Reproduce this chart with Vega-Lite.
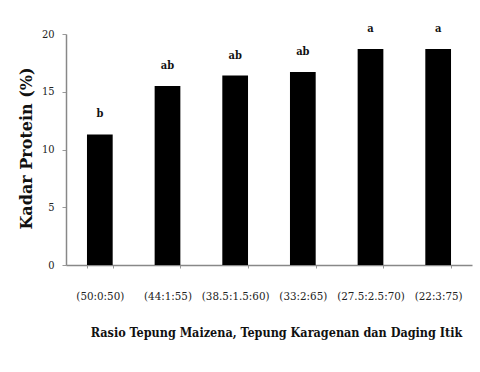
{
  "$schema": "https://vega.github.io/schema/vega-lite/v6.json",
  "width": 406,
  "height": 231,
  "autosize": {"type": "none"},
  "padding": {"left": 66, "top": 34, "right": 8, "bottom": 107},
  "background": "white",
  "config": {
    "view": {"stroke": null},
    "font": "DejaVu Serif"
  },
  "data": {
    "values": [
      {"rasio": "(50:0:50)", "protein": 11.3, "notasi": "b"},
      {"rasio": "(44:1:55)", "protein": 15.5, "notasi": "ab"},
      {"rasio": "(38.5:1.5:60)", "protein": 16.4, "notasi": "ab"},
      {"rasio": "(33:2:65)", "protein": 16.7, "notasi": "ab"},
      {"rasio": "(27.5:2.5:70)", "protein": 18.7, "notasi": "a"},
      {"rasio": "(22:3:75)", "protein": 18.7, "notasi": "a"}
    ]
  },
  "encoding": {
    "x": {
      "field": "rasio",
      "type": "nominal",
      "sort": null,
      "scale": {"paddingInner": 0.62, "paddingOuter": 0.31},
      "axis": {
        "title": "Rasio Tepung Maizena, Tepung Karagenan dan Daging Itik",
        "titleFont": "DejaVu Serif Condensed",
        "titleFontSize": 12.5,
        "titleFontWeight": "bold",
        "titleColor": "#111",
        "titlePadding": 25,
        "titleX": 210,
        "labelAngle": 0,
        "labelFont": "DejaVu Serif Condensed",
        "labelFontSize": 11.5,
        "labelColor": "#222",
        "labelPadding": 22,
        "tickBand": "extent",
        "tickSize": 3,
        "tickColor": "#999",
        "domainColor": "#888",
        "domainWidth": 1.5
      }
    },
    "y": {
      "field": "protein",
      "type": "quantitative",
      "scale": {"domain": [0, 20]},
      "axis": {
        "title": "Kadar Protein (%)",
        "titleFont": "DejaVu Serif",
        "titleFontSize": 16,
        "titleFontWeight": "bold",
        "titleColor": "#111",
        "titlePadding": 7,
        "titleY": 114,
        "titleAnchor": "middle",
        "values": [0, 5, 10, 15, 20],
        "labelFont": "DejaVu Serif Condensed",
        "labelFontSize": 11,
        "labelColor": "#222",
        "labelPadding": 8,
        "tickSize": 4,
        "tickColor": "#999",
        "domainColor": "#888",
        "domainWidth": 1.5,
        "grid": false
      }
    }
  },
  "layer": [
    {"mark": {"type": "bar", "color": "#000"}},
    {
      "mark": {"type": "text", "baseline": "bottom", "dy": -15, "font": "DejaVu Serif Condensed", "fontSize": 11, "fontWeight": "bold", "color": "#111"},
      "encoding": {"text": {"field": "notasi"}}
    }
  ]
}
